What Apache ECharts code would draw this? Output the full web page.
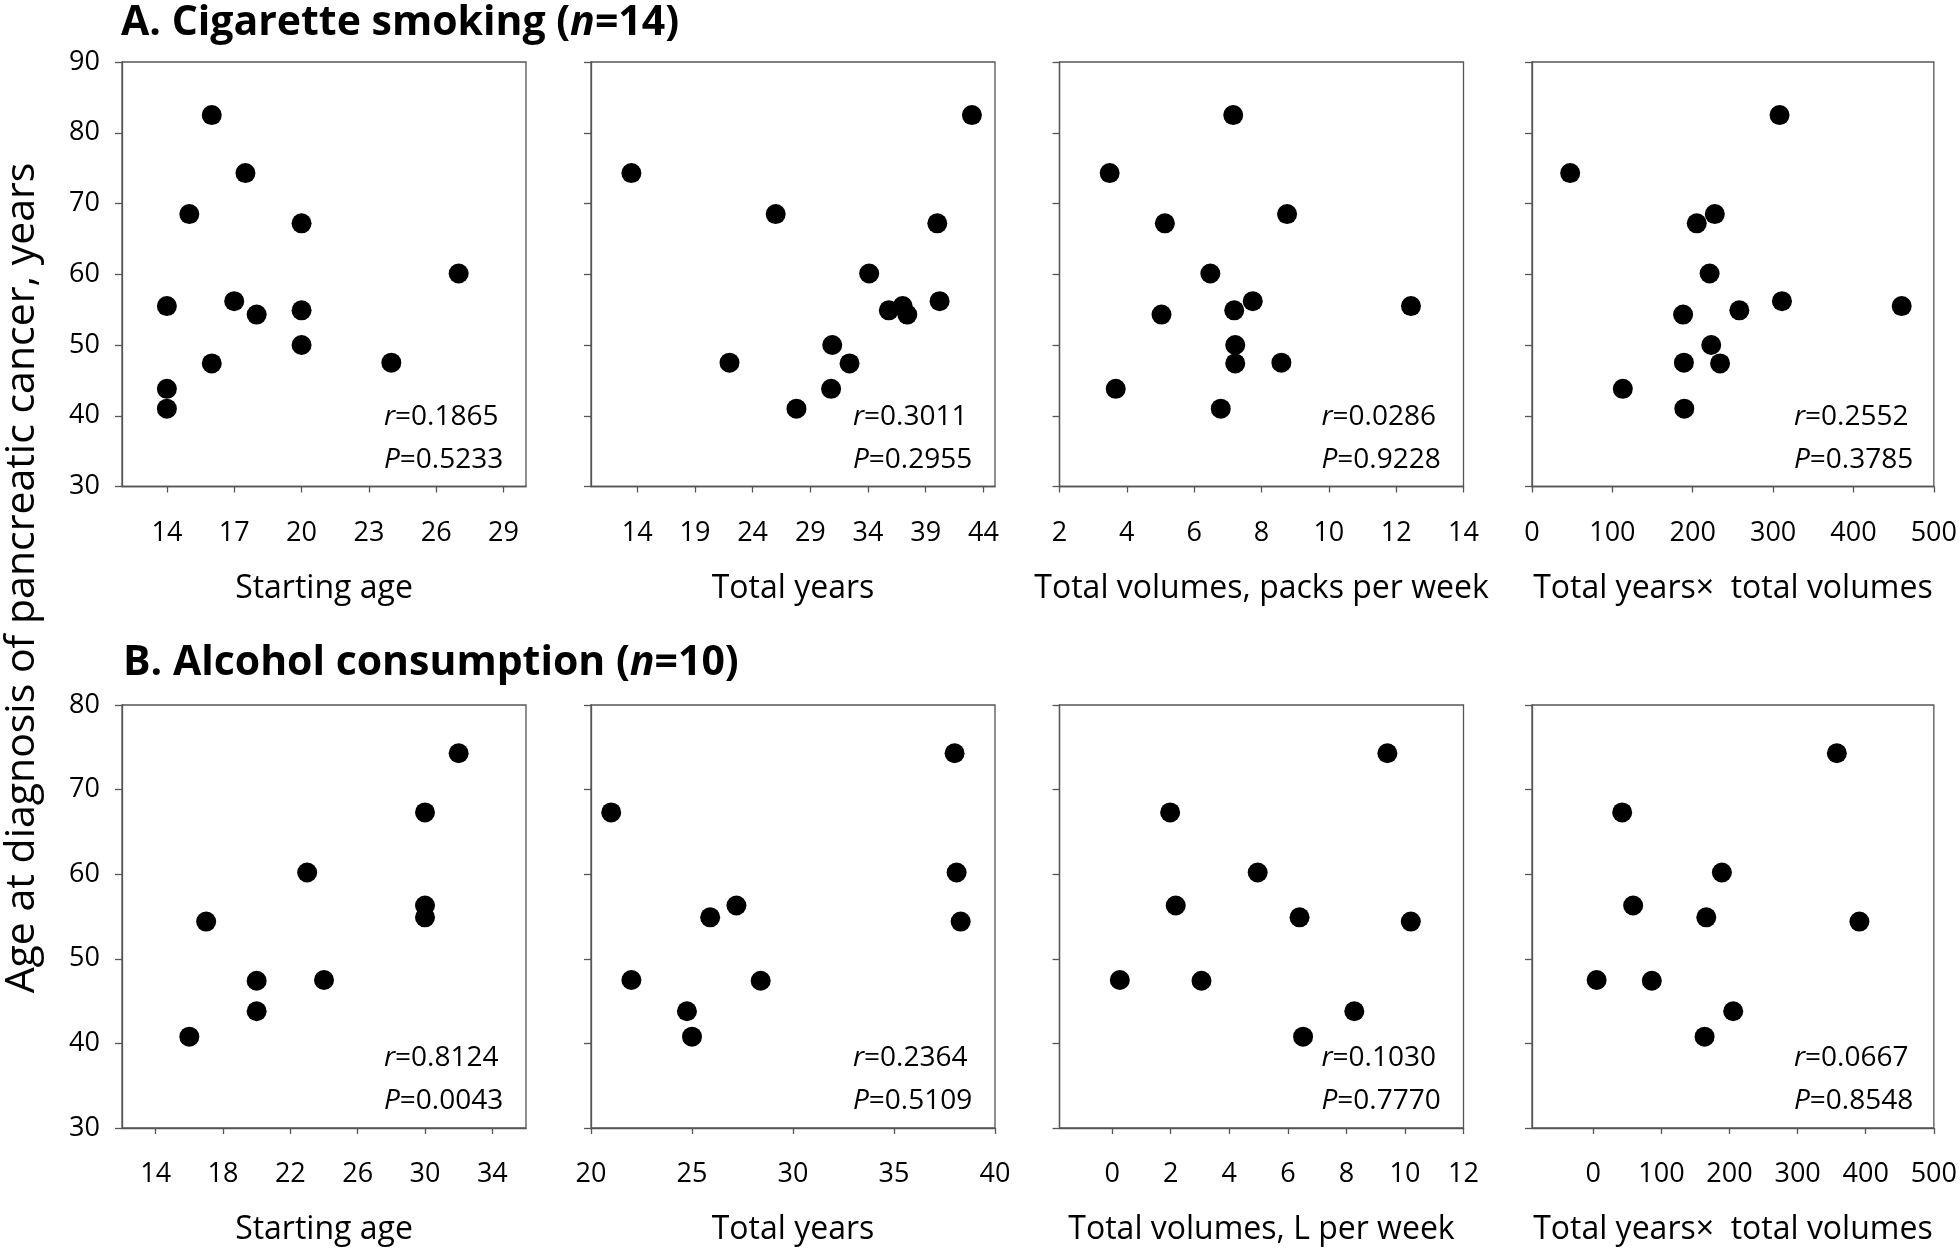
<!DOCTYPE html>
<html><head><meta charset="utf-8">
<script src="https://cdn.jsdelivr.net/npm/echarts@6/dist/echarts.min.js"></script>
<style>html,body{margin:0;padding:0;background:#fff}#c{width:1960px;height:1251px}</style>
</head><body><div id="c"></div>
<script>
// ---------- A. Cigarette smoking (n=14) ----------
const smokeDiagAge      = [82.5, 74.3, 68.5, 67.2, 60.1, 56.2, 55.5, 54.9, 54.3, 50.0, 47.5, 47.4, 43.8, 41.0];
const smokeStartAge     = [16, 17.5, 15, 20, 27, 17, 14, 20, 18, 20, 24, 16, 14, 14];
const smokeTotalYears   = [43.0, 13.5, 26.0, 40.0, 34.1, 40.2, 37.0, 35.8, 37.4, 30.9, 22.0, 32.4, 30.8, 27.8];
const smokePacksPerWeek = [7.16, 3.49, 8.76, 5.13, 6.48, 7.74, 12.44, 7.19, 5.03, 7.22, 8.59, 7.22, 3.67, 6.79];
const smokeYearsXVolume = [308, 47.5, 227.5, 205, 221, 311, 460, 258, 188, 223, 189, 234, 113, 189.5];

// ---------- B. Alcohol consumption (n=10) ----------
const alcDiagAge        = [74.3, 67.3, 60.2, 56.3, 54.9, 54.4, 47.5, 47.4, 43.8, 40.8];
const alcStartAge       = [32, 30, 23, 30, 30, 17, 24, 20, 20, 16];
const alcTotalYears     = [38.0, 21.0, 38.1, 27.2, 25.9, 38.3, 22.0, 28.4, 24.75, 25.0];
const alcLitresPerWeek  = [9.40, 1.98, 4.97, 2.17, 6.40, 10.2, 0.26, 3.05, 8.27, 6.52];
const alcYearsXVolume   = [357.6, 42.4, 188.8, 58.5, 165.9, 390.7, 4.9, 85.9, 205.4, 163.4];

// ---------- tick labels ----------
const ticksSmokeStart  = [14, 17, 20, 23, 26, 29];
const ticksSmokeYears  = [14, 19, 24, 29, 34, 39, 44];
const ticksSmokePacks  = [2, 4, 6, 8, 10, 12, 14];
const ticksSmokeProd   = [0, 100, 200, 300, 400, 500];
const ticksAlcStart    = [14, 18, 22, 26, 30, 34];
const ticksAlcYears    = [20, 25, 30, 35, 40];
const ticksAlcLitres   = [0, 2, 4, 6, 8, 10, 12];
const ticksAlcProd     = [0, 100, 200, 300, 400, 500];
const ticksYA = [30, 40, 50, 60, 70, 80, 90];
const ticksYB = [30, 40, 50, 60, 70, 80];

// ---------- axis ranges ----------
const rangeSmoke = [[12, 30], [10, 45], [2, 14], [0, 500]];
const rangeAlc   = [[12, 36], [20, 40], [-1.8, 12], [-90, 500]];

// ---------- labels & statistics ----------
const xNamesSmoke = ['Starting age', 'Total years', 'Total volumes, packs per week', 'Total years\u00d7  total volumes'];
const xNamesAlc   = ['Starting age', 'Total years', 'Total volumes, L per week', 'Total years\u00d7  total volumes'];
const rSmoke = ['0.1865', '0.3011', '0.0286', '0.2552'];
const pSmoke = ['0.5233', '0.2955', '0.9228', '0.3785'];
const rAlc   = ['0.8124', '0.2364', '0.1030', '0.0667'];
const pAlc   = ['0.0043', '0.5109', '0.7770', '0.8548'];
const titleA = 'A. Cigarette smoking (';
const titleB = 'B. Alcohol consumption (';
const yTitle = 'Age at diagnosis of pancreatic cancer, years';

// ---------- layout ----------
const FONT = '"Open Sans", "Noto Sans", sans-serif';
const AX = '#555555';
const gridLefts = [122, 591, 1059.5, 1532];
const gridW = 404;
const rows = [{top: 62, h: 424.5}, {top: 705, h: 423}];

const panels = [];
const xsSmoke = [smokeStartAge, smokeTotalYears, smokePacksPerWeek, smokeYearsXVolume];
const tkSmoke = [ticksSmokeStart, ticksSmokeYears, ticksSmokePacks, ticksSmokeProd];
const xsAlc = [alcStartAge, alcTotalYears, alcLitresPerWeek, alcYearsXVolume];
const tkAlc = [ticksAlcStart, ticksAlcYears, ticksAlcLitres, ticksAlcProd];
for (let c = 0; c < 4; c++) panels.push({row: 0, col: c, xs: xsSmoke[c], ys: smokeDiagAge, ticks: tkSmoke[c], yTicks: ticksYA, range: rangeSmoke[c], name: xNamesSmoke[c], r: rSmoke[c], p: pSmoke[c]});
for (let c = 0; c < 4; c++) panels.push({row: 1, col: c, xs: xsAlc[c], ys: alcDiagAge, ticks: tkAlc[c], yTicks: ticksYB, range: rangeAlc[c], name: xNamesAlc[c], r: rAlc[c], p: pAlc[c]});

const grid = [], xAxis = [], yAxis = [], series = [], titles = [];
panels.forEach((pn, i) => {
  const row = rows[pn.row];
  grid.push({left: gridLefts[pn.col], top: row.top, width: gridW, height: row.h,
    show: true, borderColor: AX, borderWidth: 1.3, backgroundColor: 'transparent'});
  xAxis.push({type: 'value', gridIndex: i, min: pn.range[0], max: pn.range[1],
    name: pn.name, nameLocation: 'middle', nameGap: 86,
    nameTextStyle: {fontFamily: FONT, fontSize: 32, color: '#000'},
    axisLine: {show: true, onZero: false, lineStyle: {color: AX, width: 1.3}},
    axisTick: {show: true, inside: false, length: 6, customValues: pn.ticks, lineStyle: {color: AX, width: 1.3}},
    axisLabel: {customValues: pn.ticks, margin: 33, fontFamily: FONT, fontSize: 27, color: '#000'},
    splitLine: {show: false}});
  yAxis.push({type: 'value', gridIndex: i, min: pn.yTicks[0], max: pn.yTicks[pn.yTicks.length - 1], interval: 10,
    axisLine: {show: true, onZero: false, lineStyle: {color: AX, width: 1.3}},
    axisTick: {show: true, inside: false, length: 7, lineStyle: {color: AX, width: 1.3}},
    axisLabel: {show: pn.col === 0, margin: 22, fontFamily: FONT, fontSize: 27, color: '#000'},
    splitLine: {show: false}});
  series.push({type: 'scatter', xAxisIndex: i, yAxisIndex: i, symbol: 'circle', symbolSize: 20,
    itemStyle: {color: '#000', opacity: 1}, silent: true,
    data: pn.xs.map((x, k) => [x, pn.ys[k]])});
  titles.push({left: gridLefts[pn.col] + 262, top: row.top + row.h - 91, padding: 0,
    text: '{i|r}{n|=' + pn.r + '}\n{i|P}{n|=' + pn.p + '}',
    textStyle: {fontFamily: FONT, fontSize: 28, fontWeight: 'normal', color: '#000', lineHeight: 43,
      rich: {i: {fontFamily: FONT, fontSize: 28, fontStyle: 'italic', color: '#000', lineHeight: 43},
             n: {fontFamily: FONT, fontSize: 28, color: '#000', lineHeight: 43}}}});
});

const richTitle = {
  b: {fontFamily: FONT, fontSize: 41, fontWeight: 'bold', color: '#000'},
  bi: {fontFamily: FONT, fontSize: 41, fontWeight: 'bold', fontStyle: 'italic', color: '#000'}
};
titles.push({left: 121, top: 3, padding: 0, text: '{b|' + titleA + '}{bi|n}{b|=14)}', textStyle: {rich: richTitle}});
titles.push({left: 123, top: 643, padding: 0, text: '{b|' + titleB + '}{bi|n}{b|=10)}', textStyle: {rich: richTitle}});

const chart = echarts.init(document.getElementById('c'), null, {renderer: 'canvas'});
chart.setOption({
  animation: false,
  backgroundColor: '#fff',
  title: titles,
  grid, xAxis, yAxis, series,
  graphic: [{type: 'text', x: 22, y: 578, rotation: Math.PI / 2,
    style: {text: yTitle, fontFamily: FONT, fontSize: 41, fill: '#000', align: 'center', verticalAlign: 'middle'}}]
});
</script></body></html>
